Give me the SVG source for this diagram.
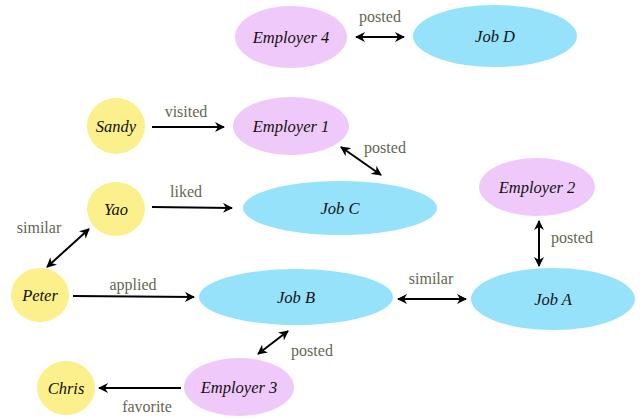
<svg xmlns="http://www.w3.org/2000/svg" width="640" height="418" viewBox="0 0 640 418">
<defs>
<style>
.person{fill:#fbf08b}
.employer{fill:#efc9f9}
.job{fill:#95e2fa}
.nl{font-family:"Liberation Serif","Times New Roman",serif;font-style:italic;font-size:16.5px;fill:#111;text-anchor:middle}
.el{font-family:"Liberation Serif","Times New Roman",serif;font-size:16px;fill:#666655;text-anchor:middle}
.c{stroke:#000;stroke-width:2;fill:none}
</style>
<marker id="ah" viewBox="0 0 10 10" refX="9" refY="5" markerWidth="5" markerHeight="5" orient="auto-start-reverse" markerUnits="strokeWidth">
<path d="M0,0 L10,5 L0,10 L3,5 Z" fill="#000"/>
</marker>
</defs>
<rect width="640" height="418" fill="#fff"/>
<g id="connectors">
<line class="c" x1="356" y1="37" x2="404" y2="37" marker-start="url(#ah)" marker-end="url(#ah)"/>
<line class="c" x1="152" y1="127" x2="224" y2="127" marker-end="url(#ah)"/>
<line class="c" x1="341" y1="147" x2="381" y2="175" marker-start="url(#ah)" marker-end="url(#ah)"/>
<line class="c" x1="152" y1="207" x2="232" y2="208" marker-end="url(#ah)"/>
<line class="c" x1="47" y1="267" x2="89" y2="229" marker-start="url(#ah)" marker-end="url(#ah)"/>
<line class="c" x1="73" y1="296" x2="194" y2="297" marker-end="url(#ah)"/>
<line class="c" x1="398" y1="299" x2="466" y2="299" marker-start="url(#ah)" marker-end="url(#ah)"/>
<line class="c" x1="539" y1="221" x2="539" y2="266" marker-start="url(#ah)" marker-end="url(#ah)"/>
<line class="c" x1="258" y1="354" x2="288" y2="331" marker-start="url(#ah)" marker-end="url(#ah)"/>
<line class="c" x1="181" y1="388" x2="99" y2="388" marker-end="url(#ah)"/>
<text class="el" x="380" y="22">posted</text>
<text class="el" x="186" y="117">visited</text>
<text class="el" x="385" y="153">posted</text>
<text class="el" x="186" y="197">liked</text>
<text class="el" x="39" y="233">similar</text>
<text class="el" x="133" y="290">applied</text>
<text class="el" x="431" y="284">similar</text>
<text class="el" x="572" y="243">posted</text>
<text class="el" x="312" y="356">posted</text>
<text class="el" x="147" y="412">favorite</text>
</g>
<g id="employer4"><ellipse class="employer" cx="291" cy="37" rx="56" ry="31"/><text class="nl" x="291" y="43">Employer 4</text></g>
<g id="jobD"><ellipse class="job" cx="495" cy="36" rx="82" ry="31"/><text class="nl" x="495" y="42">Job D</text></g>
<g id="sandy"><ellipse class="person" cx="116" cy="126" rx="29" ry="28"/><text class="nl" x="116" y="132">Sandy</text></g>
<g id="employer1"><ellipse class="employer" cx="291" cy="126" rx="58" ry="29"/><text class="nl" x="291" y="132">Employer 1</text></g>
<g id="yao"><ellipse class="person" cx="116" cy="209" rx="29" ry="27"/><text class="nl" x="116" y="215">Yao</text></g>
<g id="jobC"><ellipse class="job" cx="340" cy="208" rx="97" ry="27"/><text class="nl" x="340" y="214">Job C</text></g>
<g id="employer2"><ellipse class="employer" cx="537" cy="187" rx="58" ry="29"/><text class="nl" x="537" y="193">Employer 2</text></g>
<g id="peter"><ellipse class="person" cx="40" cy="295" rx="29" ry="27"/><text class="nl" x="40" y="301">Peter</text></g>
<g id="jobB"><ellipse class="job" cx="296" cy="297" rx="97" ry="28"/><text class="nl" x="296" y="303">Job B</text></g>
<g id="jobA"><ellipse class="job" cx="553" cy="299" rx="82" ry="31"/><text class="nl" x="553" y="305">Job A</text></g>
<g id="employer3"><ellipse class="employer" cx="239" cy="387" rx="55" ry="29"/><text class="nl" x="239" y="393">Employer 3</text></g>
<g id="chris"><ellipse class="person" cx="66" cy="388" rx="29" ry="27"/><text class="nl" x="66" y="394">Chris</text></g>
</svg>
